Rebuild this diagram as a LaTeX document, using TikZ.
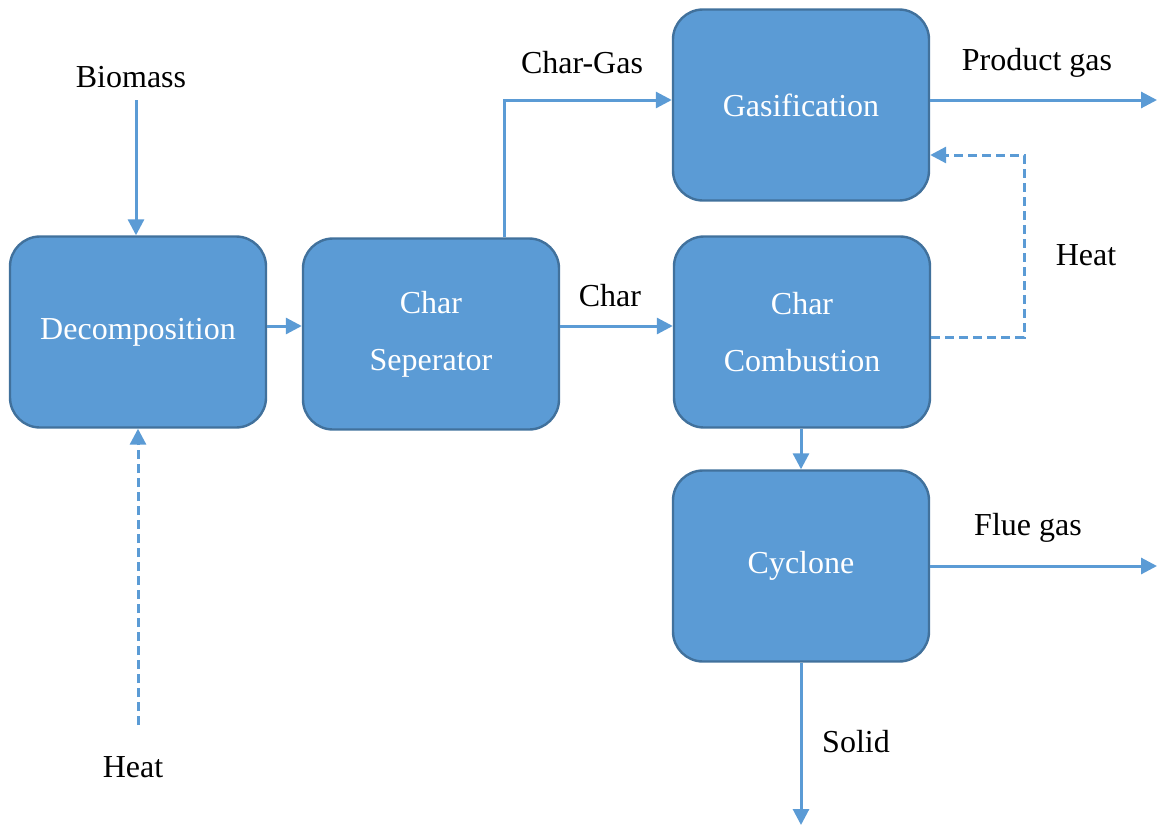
\documentclass[tikz,border=0pt]{standalone}
\usepackage{fontspec}
\setmainfont{Liberation Serif}
\usetikzlibrary{arrows.meta}
\definecolor{boxfill}{HTML}{5B9BD5}
\definecolor{boxline}{HTML}{41719C}
\definecolor{lineblue}{HTML}{5B9BD5}
\tikzset{
  box/.style={draw=boxline, line width=2.4pt, fill=boxfill, rounded corners=30pt,
    minimum width=256pt, minimum height=191pt, inner sep=0pt, align=center,
    text=white, font=\fontsize{32}{57}\selectfont},
  arr/.style={draw=lineblue, line width=3pt, -{Triangle[length=16pt,width=16pt]}},
  darr/.style={arr, dash pattern=on 9pt off 5pt},
  lbl/.style={font=\fontsize{32}{36}\selectfont, inner sep=0pt}
}
\begin{document}
\begin{tikzpicture}[x=1pt,y=-1pt]
\useasboundingbox (0,0) rectangle (1157,825);
\node[box] (dec) at (138,332) {Decomposition};
\node[box] (sep) at (431,334) {Char\\Seperator};
\node[box] (gas) at (801,105) {Gasification};
\node[box] (com) at (802,332) {Char\\Combustion};
\node[box] (cyc) at (801,566) {Cyclone};

\node[lbl] (bio) at (131,77) {Biomass};
\node[lbl] (heat1) at (133,767) {Heat};
\node[lbl] (cg) at (582,63) {Char-Gas};
\node[lbl] (ch) at (610,296) {Char};
\node[lbl] (pg) at (1037,63) {Product gas};
\node[lbl] (heat2) at (1086,255) {Heat};
\node[lbl] (fg) at (1028,528) {Flue gas};
\node[lbl] (sol) at (856,742) {Solid};

\coordinate (bioS) at (136,100);
\coordinate (heatS) at (138,725);
\coordinate (pgE) at (1157,100);
\coordinate (fgE) at (1157,566);
\coordinate (solE) at (801,825);
\coordinate (hloop) at (1024,155);

\draw[arr] (bioS) -- (bioS |- dec.north);
\draw[darr] (heatS) -- (heatS |- dec.south);
\draw[arr] (dec.east |- 0,326) -- (sep.west |- 0,326);
\draw[arr] (sep.east |- 0,326) -- (com.west |- 0,326);
\draw[arr] (sep.north -| 504,0) |- (gas.west |- pgE);
\draw[arr] (gas.east |- pgE) -- (pgE);
\draw[darr] (com.east |- 0,337) -| (hloop) -- (gas.east |- hloop);
\draw[arr] (com.south -| 801,0) -- (cyc.north);
\draw[arr] (cyc.east) -- (fgE);
\draw[arr] (cyc.south) -- (solE);
\end{tikzpicture}
\end{document}
